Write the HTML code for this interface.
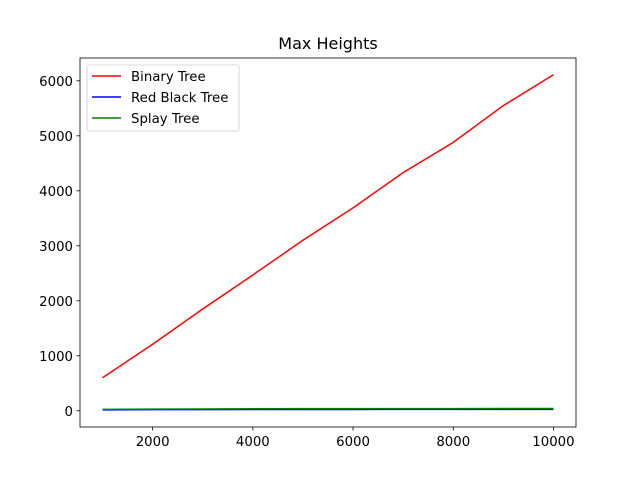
<!DOCTYPE html>
<html><head><meta charset="utf-8"><style>body{margin:0;background:#fff}svg{display:block;font-family:"DejaVu Sans","Liberation Sans",sans-serif}</style></head>
<body>
<svg id="c" width="640" height="480" xmlns="http://www.w3.org/2000/svg"></svg>
<script>
const xs=[1000,2000,3000,4000,5000,6000,7000,8000,9000,10000];
const binary=[600,1210,1850,2470,3100,3690,4330,4880,5550,6110];
const redBlack=[17,20,21,23,23,24,25,25,26,26];
const splay=[25,30,32,36,38,38,39,40,41,41];
const xTicks=[2000,4000,6000,8000,10000];
const yTicks=[0,1000,2000,3000,4000,5000,6000];
const L=80,R=576,T=58,B=427,x0=550,x1=10450,y0=-295,y1=6415;
const X=v=>L+(v-x0)/(x1-x0)*(R-L), Y=v=>B-(v-y0)/(y1-y0)*(B-T);
const s=document.getElementById('c');const NS='http://www.w3.org/2000/svg';
function mk(t,a,p){const e=document.createElementNS(NS,t);for(const k in a)e.setAttribute(k,a[k]);(p||s).appendChild(e);return e;}
const ax=mk('rect',{x:L,y:T,width:R-L,height:B-T,fill:'none',stroke:'#000','stroke-width':0.8});


xTicks.forEach(v=>{mk('line',{x1:X(v),x2:X(v),y1:B,y2:B+3.5,stroke:'#000','stroke-width':0.8});
const t=mk('text',{x:X(v),y:B+19,'text-anchor':'middle','font-size':13.3});t.textContent=v;

});
yTicks.forEach(v=>{mk('line',{x1:L-3.5,x2:L,y1:Y(v),y2:Y(v),stroke:'#000','stroke-width':0.8});
const t=mk('text',{x:L-7,y:Y(v)+5,'text-anchor':'end','font-size':13.3});t.textContent=v;

});
[[binary,'red','binary-tree-line'],[redBlack,'blue','red-black-tree-line'],[splay,'green','splay-tree-line']].forEach(([d,c,n])=>{
const p=mk('polyline',{points:xs.map((x,i)=>X(x)+','+Y(d[i])).join(' '),fill:'none',stroke:c,'stroke-width':1.5});

});
const ti=mk('text',{x:328,y:49,'text-anchor':'middle','font-size':16});ti.textContent='Max Heights';


const g=mk('g',{});


mk('rect',{x:87,y:65,width:152,height:66,rx:2,fill:'#fff',stroke:'#ccc','stroke-width':0.8},g);
[['Binary Tree','red'],['Red Black Tree','blue'],['Splay Tree','green']].forEach(([n,c],i)=>{
const y=76+i*21;
mk('line',{x1:92,x2:121,y1:y,y2:y,stroke:c,'stroke-width':1.5},g);
const t=mk('text',{x:131,y:y+5,'font-size':13.3},g);t.textContent=n;

});
</script>
</body></html>
